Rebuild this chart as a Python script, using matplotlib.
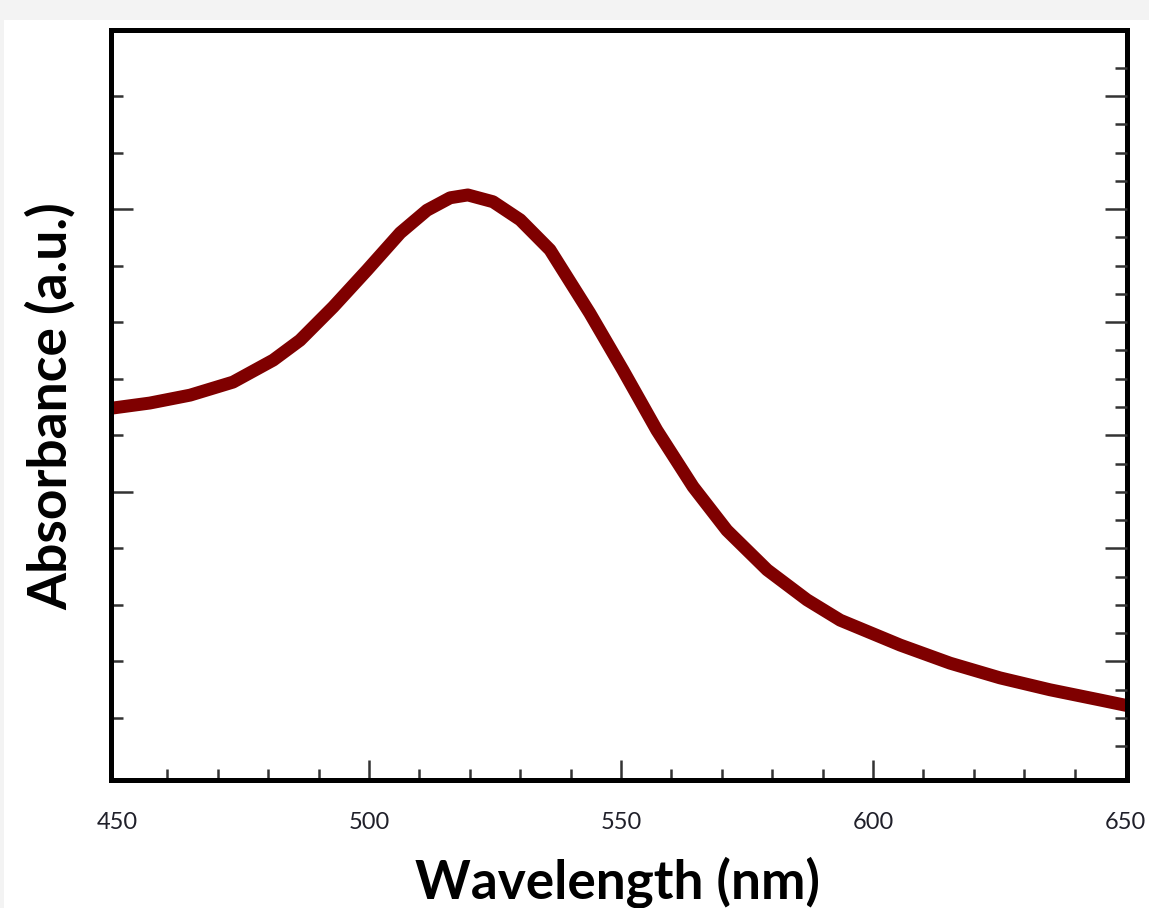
import matplotlib
matplotlib.use("Agg")
import matplotlib.pyplot as plt
from matplotlib.patches import Rectangle
import numpy as np

# ---- data ----
wavelength = [449, 456.5, 464.5, 473, 481, 486.3, 492.9, 499.6, 506.2, 511.5,
              516.1, 519.6, 524.6, 530, 535.9, 543.8, 550.4, 557.1, 564.3,
              571, 579, 586.9, 593.5, 605.4, 615.3, 625.2, 635.1, 645, 650.4]
absorbance = [0.748, 0.757, 0.771, 0.794, 0.833, 0.868, 0.927, 0.992, 1.058, 1.098,
              1.120, 1.125, 1.113, 1.081, 1.028, 0.916, 0.815, 0.709, 0.609,
              0.532, 0.462, 0.409, 0.373, 0.329, 0.297, 0.271, 0.250, 0.232, 0.222]
xtick_values = [450, 500, 550, 600, 650]
xtick_labels = ["450", "500", "550", "600", "650"]
x_label = "Wavelength (nm)"
y_label = "Absorbance (a.u.)"

W, H = 1149, 908
DPI = 100
fig = plt.figure(figsize=(W / DPI, H / DPI), dpi=DPI, facecolor="#f3f3f3")
fig.patches.append(Rectangle((4 / W, 0), 1, (H - 20) / H, transform=fig.transFigure,
                             facecolor="white", edgecolor="none", zorder=-10))

left, right, bottom, top = 111 / W, 1127 / W, 1 - 780 / H, 1 - 30 / H
ax = fig.add_axes([left, bottom, right - left, top - bottom])
ax.set_zorder(1)
ax.set_facecolor("white")
ax.plot(wavelength, absorbance, color="#7f0000", lw=9.3, solid_capstyle="butt",
        solid_joinstyle="round", zorder=3)

ax.set_xlim(448.8, 650.4)
ax.set_ylim(0.0904, 1.4167)

for s in ax.spines.values():
    s.set_linewidth(3.6)
    s.set_color("black")
    s.set_zorder(5)

tick_col = "#333333"
# x ticks
ax.set_xticks(xtick_values)
ax.set_xticklabels(xtick_labels)
ax.set_xticks(np.arange(460, 650, 10), minor=True)
ax.tick_params(axis="x", which="major", direction="in", length=14.5, width=1.8,
               color=tick_col, pad=23, labelsize=17, labelcolor="#20202a", top=False)
ax.tick_params(axis="x", which="minor", direction="in", length=8, width=1.8,
               color=tick_col, top=False)
for lab in ax.get_xticklabels():
    lab.set_family("Lato")
majors = ax.xaxis.get_major_ticks()
majors[0].tick1line.set_visible(False)
majors[-1].tick1line.set_visible(False)

# left y ticks
ax.set_yticks([0.6, 1.1])
ax.set_yticks([0.2, 0.3, 0.4, 0.5, 0.7, 0.8, 0.9, 1.0, 1.2, 1.3], minor=True)
ax.tick_params(axis="y", which="major", direction="in", length=15.5, width=1.8,
               color=tick_col, labelleft=False, right=False)
ax.tick_params(axis="y", which="minor", direction="in", length=8.5, width=1.8,
               color=tick_col, right=False)

# right y ticks
ax2 = ax.twinx()
ax2.set_ylim(ax.get_ylim())
ax2.set_yticks([0.3, 0.5, 0.7, 0.9, 1.1, 1.3])
ax2.set_yticks([0.15, 0.2, 0.25, 0.35, 0.4, 0.45, 0.55, 0.6, 0.65, 0.75, 0.8, 0.85,
                0.95, 1.0, 1.05, 1.15, 1.2, 1.25, 1.35], minor=True)
ax2.tick_params(axis="y", which="major", direction="in", length=15.5, width=1.8,
                color=tick_col, labelright=False, left=False)
ax2.tick_params(axis="y", which="minor", direction="in", length=8.5, width=1.8,
                color=tick_col, left=False)
for s in ax2.spines.values():
    s.set_visible(False)

# axis titles
xt = fig.text(617 / W, (H - 899) / H, x_label, ha="center", va="baseline",
              fontsize=36, fontweight="bold", family="Lato", color="black")
yt = fig.text(50 / W, 1 - 406 / H, y_label, ha="center", va="center", rotation=90,
              fontsize=36, fontweight="bold", family="Lato", color="black")

# scale titles to the reference widths
fig.canvas.draw()
r = fig.canvas.get_renderer()
bx = xt.get_window_extent(r)
xt.set_fontsize(36 * 405 / bx.width)
by = yt.get_window_extent(r)
yt.set_fontsize(36 * 408 / by.height)

fig.savefig("out.png", dpi=DPI, facecolor=fig.get_facecolor())
